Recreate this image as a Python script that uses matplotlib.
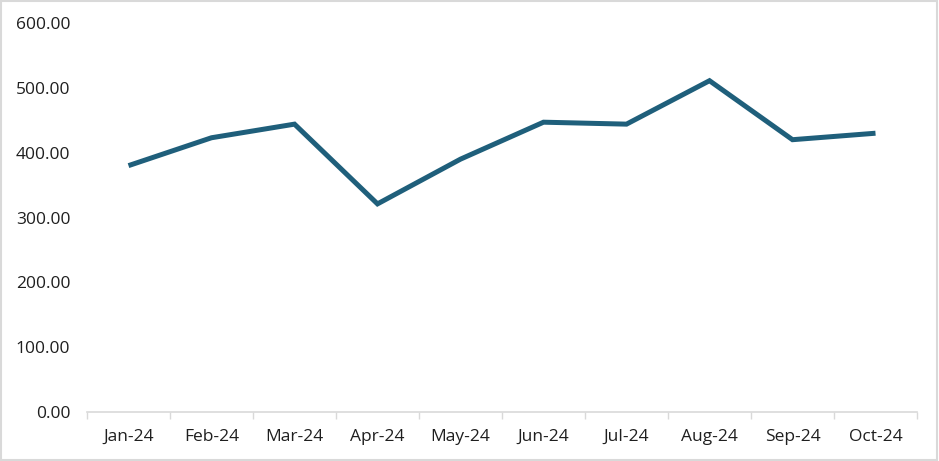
import numpy as np
import matplotlib
matplotlib.use("Agg")
import matplotlib.pyplot as plt
from matplotlib.patches import Rectangle

plt.rcParams['font.family'] = ['Open Sans', 'DejaVu Sans']

months = ["Jan-24", "Feb-24", "Mar-24", "Apr-24", "May-24",
          "Jun-24", "Jul-24", "Aug-24", "Sep-24", "Oct-24"]
values = [380, 423, 444, 321, 390, 447, 444, 511, 420, 430]
y_ticks = [0, 100, 200, 300, 400, 500, 600]

LINE_COLOR = "#1F5F7B"
AXIS_COLOR = "#D9D9D9"
TEXT_COLOR = "#1F1F1F"

fig = plt.figure(figsize=(9.39, 4.61), dpi=100)
ax = fig.add_axes([87 / 939, 49 / 461, 830 / 939, 389 / 461])

x = np.arange(len(months))
ax.plot(x, values, color=LINE_COLOR, linewidth=3.6, solid_joinstyle="miter",
        solid_capstyle="butt")

ax.set_xlim(-0.5, len(months) - 0.5)
ax.set_ylim(0, 600)
ax.set_yticks(y_ticks)
ax.set_yticklabels([f"{v:.2f}" for v in y_ticks])
ax.set_xticks(x)
ax.set_xticklabels(months)
ax.set_xticks(np.arange(-0.5, len(months)), minor=True)

ax.tick_params(axis="x", which="major", length=0, pad=12, labelsize=12.5, labelcolor=TEXT_COLOR)
ax.tick_params(axis="x", which="minor", length=5, width=1, color=AXIS_COLOR, direction="out")
ax.tick_params(axis="y", length=0, pad=12, labelsize=12.5, labelcolor=TEXT_COLOR)

for side in ["top", "right", "left"]:
    ax.spines[side].set_visible(False)
ax.spines["bottom"].set_color(AXIS_COLOR)
ax.spines["bottom"].set_linewidth(1.2)

# light chart border
fig.patches.append(Rectangle((0.001, 0.002), 0.997, 0.995, transform=fig.transFigure,
                             fill=False, edgecolor="#D9D9D9", linewidth=1.5))

fig.savefig("out.png", dpi=100)
